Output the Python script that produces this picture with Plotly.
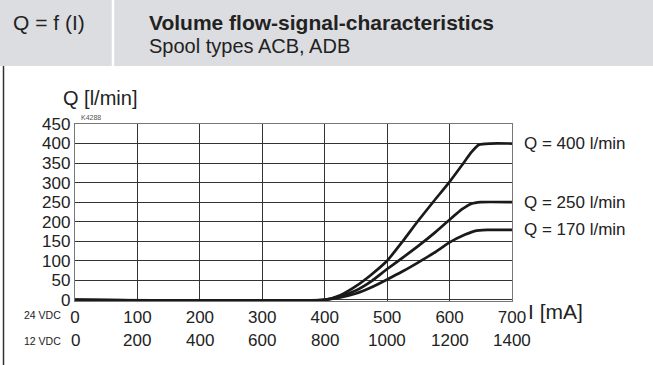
import plotly.graph_objects as go

# current in mA (24 VDC scale) and flow in l/min
i_400 = [0, 400, 425, 450, 475, 500, 525, 550, 575, 600, 620, 635, 647, 665, 700]
q_400 = [0, 0, 12, 35, 65, 100, 150, 203, 253, 302, 345, 378, 397, 400, 400]
i_250 = [0, 400, 425, 450, 475, 500, 525, 550, 575, 600, 620, 635, 650, 700]
q_250 = [0, 0, 9, 24, 48, 79, 108, 138, 170, 205, 232, 246, 250, 250]
i_170 = [0, 400, 425, 450, 475, 500, 525, 550, 575, 600, 625, 640, 660, 700]
q_170 = [0, 0, 6, 16, 32, 52, 73, 96, 120, 147, 167, 176, 179, 179]
curve_labels = ["Q = 400 l/min", "Q = 250 l/min", "Q = 170 l/min"]
label_y = [400, 250, 180]

x_ticks_24 = [0, 100, 200, 300, 400, 500, 600, 700]
x_ticks_12 = ["0", "200", "400", "600", "800", "1000", "1200", "1400"]
y_ticks = [0, 50, 100, 150, 200, 250, 300, 350, 400, 450]

W, H = 653, 365
L, R, T, B = 75, 141, 124, 64
PW, PH = W - L - R, H - T - B


def px(x):
    return (x - L) / PW


def py(y):
    return (H - B - y) / PH


FONT = "Liberation Sans, Arial, sans-serif"
fig = go.Figure()
for xs, ys in [(i_400, q_400), (i_250, q_250), (i_170, q_170)]:
    fig.add_trace(go.Scatter(x=xs, y=ys, mode="lines", line=dict(color="#1a1a1a", width=2.7, shape="spline", smoothing=0.5),
                             showlegend=False, hoverinfo="skip"))

shapes = [
    dict(type="rect", xref="paper", yref="paper", x0=px(0), x1=px(W), y0=py(0), y1=py(66),
         fillcolor="#dcdde0", line=dict(width=0), layer="below"),
    dict(type="line", xref="paper", yref="paper", x0=px(113), x1=px(113), y0=py(0), y1=py(66),
         line=dict(color="white", width=2.5)),
    dict(type="line", xref="paper", yref="paper", x0=px(3.5), x1=px(3.5), y0=py(66), y1=py(H),
         line=dict(color="#333", width=1.5)),
]

ann = [
    dict(text="Q = f (I)", x=px(11), y=py(22), xanchor="left", yanchor="middle", font=dict(size=21)),
    dict(text="<b>Volume flow-signal-characteristics</b>", x=px(147), y=py(22), xanchor="left", yanchor="middle", font=dict(size=21)),
    dict(text="Spool types ACB, ADB", x=px(147), y=py(46), xanchor="left", yanchor="middle", font=dict(size=20)),
    dict(text="Q [l/min]", x=px(61), y=py(98), xanchor="left", yanchor="middle", font=dict(size=20)),
    dict(text="K4288", x=px(79), y=py(117), xanchor="left", yanchor="middle", font=dict(size=7, color="#555")),
    dict(text="I [mA]", x=px(526), y=py(311), xanchor="left", yanchor="middle", font=dict(size=21)),
    dict(text="24 VDC", x=px(63), y=py(315), xanchor="right", yanchor="middle", font=dict(size=10.5)),
    dict(text="12 VDC", x=px(63), y=py(341), xanchor="right", yanchor="middle", font=dict(size=10.5)),
]
for t, yv in zip(curve_labels, label_y):
    ann.append(dict(text=t, x=px(522), y=yv, yref="y", xanchor="left", yanchor="middle", font=dict(size=17)))
for xv, t in zip(x_ticks_24, x_ticks_12):
    ann.append(dict(text=t, x=xv, xref="x", y=py(340), xanchor="center", yanchor="middle", font=dict(size=17)))
for a in ann:
    a.setdefault("xref", "paper")
    a.setdefault("yref", "paper")
    a["showarrow"] = False
    a["font"] = dict(family=FONT, color=a["font"].get("color", "#222"), size=a["font"]["size"])

fig.update_layout(
    width=W, height=H, margin=dict(l=L, r=R, t=T, b=B),
    paper_bgcolor="white", plot_bgcolor="white",
    font=dict(family=FONT, size=17, color="#222"),
    shapes=shapes, annotations=ann,
    xaxis=dict(range=[0, 700], tickvals=x_ticks_24, showgrid=True, gridcolor="#333", gridwidth=1.3,
               showline=True, mirror=True, linecolor="#777", linewidth=1.3, zeroline=False,
               ticks="", ticklen=0, tickfont=dict(size=17)),
    yaxis=dict(range=[-3, 450], tickvals=y_ticks, showgrid=True, gridcolor="#333", gridwidth=1.3,
               showline=True, mirror=True, linecolor="#777", linewidth=1.3, zeroline=False,
               ticks="", tickfont=dict(size=17)),
)
fig.write_html("out.html", config={"displayModeBar": False},
               post_script="document.body.style.margin='0';")
